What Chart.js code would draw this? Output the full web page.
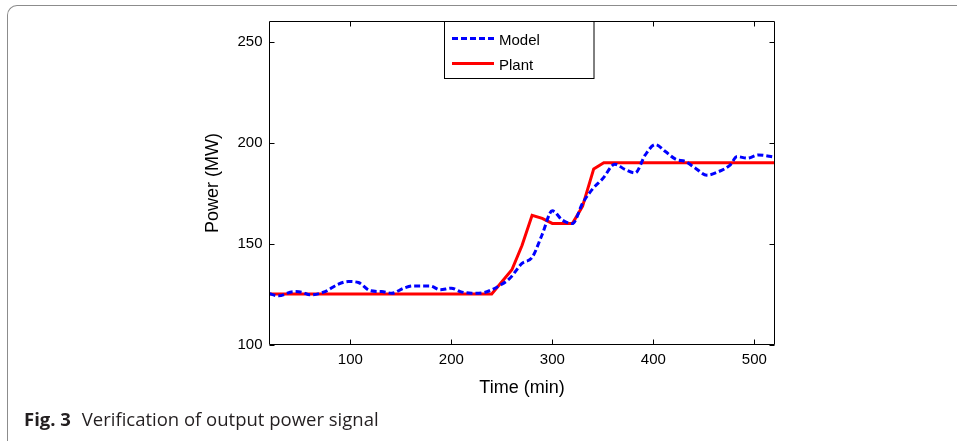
<!DOCTYPE html>
<html>
<head>
<meta charset="utf-8">
<script src="https://cdn.jsdelivr.net/npm/chart.js@4/dist/chart.umd.min.js"></script>
<style>
  html, body { margin: 0; padding: 0; background: #fff; }
  #wrap { position: relative; width: 957px; height: 441px; overflow: hidden; }
  #frame { position: absolute; left: 7px; top: 5px; width: 1000px; height: 445px;
           border-top: 1.5px solid #8c8c8c; border-left: 1.5px solid #8c8c8c;
           border-radius: 10px 0 0 10px; box-sizing: border-box; }
  #c { position: absolute; left: 0; top: 0; }
  #caption { position: absolute; left: 24px; top: 406px; font-family: 'Open Sans', sans-serif;
             font-size: 18.5px; color: #231f20; white-space: nowrap; }
  #caption b { font-weight: 700; margin-right: 6px; }
</style>
</head>
<body>
<div id="wrap">
  <div id="frame"></div>
  <canvas id="c" width="957" height="441"></canvas>
  <div id="caption"><b>Fig. 3</b> Verification of output power signal</div>
</div>
<script>
// ---- data ----
const modelTime  = [20, 29, 44, 52, 60, 75, 87, 98, 108, 120, 131, 141, 153, 162, 179, 189, 200, 209, 220, 232, 240, 249, 258, 270, 280, 290, 300, 310, 320, 330, 340, 350, 362, 372, 382, 392, 402, 412, 422, 432, 442, 453, 464, 476, 483, 493, 504, 520];
const modelPower = [125.1, 124.1, 126.2, 125.9, 124.6, 126.2, 129.6, 131.2, 130.7, 126.6, 126.2, 125.4, 127.9, 129, 129, 127.1, 127.9, 126.2, 125.4, 125.7, 127.1, 129.5, 132.8, 140.2, 143.1, 154.5, 166.2, 161.6, 159.9, 170, 177.1, 182.2, 189.3, 186.7, 185, 193.9, 199, 195.6, 191.8, 190.6, 187.2, 183.9, 185.5, 188.9, 193.1, 192.3, 193.9, 192.8];
const plantTime  = [20, 240, 260, 270, 280, 290, 300, 320, 330, 341, 351, 520];
const plantPower = [125, 125, 137, 149, 164, 162.5, 160, 160, 168.5, 187, 190, 190];
const xTicks = [100, 200, 300, 400, 500];
const yTicks = [100, 150, 200, 250];
const seriesNames = ['Model', 'Plant'];
const xTitle = 'Time (min)';
const yTitle = 'Power (MW)';

const toXY = (xs, ys) => xs.map((x, i) => ({ x: x, y: ys[i] }));
const FONT = 'Liberation Sans, Arial, sans-serif';

const framePlugin = {
  id: 'frameTicks',
  afterDatasetsDraw(chart) {
    const { ctx, chartArea: a, scales } = chart;
    ctx.save();
    ctx.strokeStyle = '#000';
    ctx.lineWidth = 1;
    ctx.beginPath();
    ctx.rect(a.left, a.top, a.right - a.left, a.bottom - a.top);
    ctx.stroke();
    const L = 5;
    ctx.beginPath();
    xTicks.forEach(v => {
      const p = Math.round(scales.x.getPixelForValue(v)) + 0.5;
      ctx.moveTo(p, a.bottom); ctx.lineTo(p, a.bottom - L);
      ctx.moveTo(p, a.top); ctx.lineTo(p, a.top + L);
    });
    yTicks.forEach(v => {
      const p = Math.round(scales.y.getPixelForValue(v)) + 0.5;
      ctx.moveTo(a.left, p); ctx.lineTo(a.left + L, p);
      ctx.moveTo(a.right, p); ctx.lineTo(a.right - L, p);
    });
    ctx.stroke();
    ctx.restore();
  },
  afterDraw(chart) {
    const { ctx } = chart;
    const ds = chart.data.datasets;
    ctx.save();
    const bx = 444.5, by = 21.5, bw = 149.5, bh = 57;
    ctx.fillStyle = '#fff';
    ctx.fillRect(bx, by, bw, bh);
    ctx.strokeStyle = '#000';
    ctx.lineWidth = 1;
    ctx.strokeRect(bx, by, bw, bh);
    const rows = [38.5, 63.5];
    ds.forEach((d, i) => {
      ctx.beginPath();
      ctx.strokeStyle = d.borderColor;
      ctx.lineWidth = d.borderWidth;
      ctx.setLineDash(d.borderDash || []);
      ctx.moveTo(452, rows[i]);
      ctx.lineTo(494, rows[i]);
      ctx.stroke();
      ctx.setLineDash([]);
      ctx.fillStyle = '#000';
      ctx.font = '15px ' + FONT;
      ctx.textBaseline = 'middle';
      ctx.textAlign = 'left';
      ctx.fillText(d.label, 499, rows[i] + 2.5);
    });
    ctx.restore();
  }
};

new Chart(document.getElementById('c'), {
  type: 'line',
  data: {
    datasets: [
      { label: seriesNames[0], data: toXY(modelTime, modelPower), borderColor: '#0000ff',
        borderWidth: 3, borderDash: [6, 3], cubicInterpolationMode: 'monotone', pointRadius: 0, fill: false },
      { label: seriesNames[1], data: toXY(plantTime, plantPower), borderColor: '#ff0000',
        borderWidth: 3, tension: 0, pointRadius: 0, fill: false }
    ]
  },
  options: {
    responsive: false,
    animation: false,
    devicePixelRatio: 1,
    layout: { padding: { left: 200, top: 21.5, right: 182.5, bottom: 36.5 } },
    plugins: { legend: { display: false }, tooltip: { enabled: false } },
    scales: {
      x: {
        type: 'linear', min: 20, max: 520,
        grid: { display: false, drawTicks: false },
        border: { display: false },
        ticks: { color: '#000', font: { family: FONT, size: 15 }, padding: 6, maxRotation: 0 },
        afterBuildTicks: s => { s.ticks = xTicks.map(v => ({ value: v })); },
        afterFit: s => { s.height = 60; },
        title: { display: true, text: xTitle, color: '#000', font: { family: FONT, size: 18 }, padding: { top: 0, bottom: 6 } }
      },
      y: {
        type: 'linear', min: 100, max: 260,
        grid: { display: false, drawTicks: false },
        border: { display: false },
        ticks: { color: '#000', font: { family: FONT, size: 15 }, padding: 7 },
        afterBuildTicks: s => { s.ticks = yTicks.map(v => ({ value: v })); },
        afterFit: s => { s.width = 69.5; },
        title: { display: true, text: yTitle, color: '#000', font: { family: FONT, size: 18 }, padding: { top: 2, bottom: 0 } }
      }
    }
  },
  plugins: [framePlugin]
});
</script>
</body>
</html>
